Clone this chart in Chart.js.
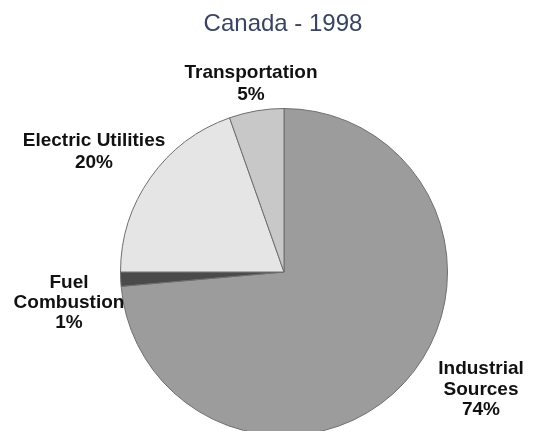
<!DOCTYPE html>
<html>
<head>
<meta charset="utf-8">
<script src="https://cdn.jsdelivr.net/npm/chart.js@4"></script>
<style>
    html, body { margin: 0; padding: 0; background: #fff; overflow: hidden; }
</style>
</head>
<body>
<canvas id="pieChart" width="547" height="442"></canvas>
<script>
const categories = ["Industrial Sources", "Fuel Combustion", "Electric Utilities", "Transportation"];
const shares = [73.6, 1.4, 19.6, 5.4];
const labelLines = [["Industrial", "Sources"], ["Fuel", "Combustion"], ["Electric Utilities"], ["Transportation"]];
const sliceColors = ["#9c9c9c", "#4a4a4a", "#e5e5e5", "#c8c8c8"];

// where each label block sits (center x, first line y, line gap)
const labelSpots = [
    { x: 481, y: 369, gap: 20.5 },
    { x: 69, y: 283, gap: 20 },
    { x: 94, y: 141, gap: 22 },
    { x: 251, y: 73, gap: 22 }
];

const textPlugin = {
    id: "texts",
    afterDraw(chart) {
        const ctx = chart.ctx;
        ctx.save();
        ctx.textAlign = "center";
        ctx.textBaseline = "middle";

        ctx.fillStyle = "#394462";
        ctx.font = "24px 'Liberation Sans', Arial, sans-serif";
        ctx.fillText("Canada - 1998", 283, 24);

        ctx.fillStyle = "#111";
        ctx.font = "bold 19px 'Liberation Sans', Arial, sans-serif";
        labelSpots.forEach((spot, i) => {
            const lines = labelLines[i].concat([Math.round(shares[i]) + "%"]);
            lines.forEach((line, j) => {
                ctx.fillText(line, spot.x, spot.y + j * spot.gap);
            });
        });
        ctx.restore();
    }
};

const pieChart = document.getElementById("pieChart");

new Chart(pieChart, {
    type: "pie",
    data: {
        labels: categories,
        datasets: [{
            data: shares,
            backgroundColor: sliceColors,
            borderColor: "#6e6e6e",
            borderWidth: 1
        }]
    },
    options: {
        responsive: false,
        animation: false,
        devicePixelRatio: 1,
        layout: { padding: { left: 120, right: 99, top: 108, bottom: 6 } },
        plugins: {
            legend: { display: false },
            tooltip: { enabled: false }
        }
    },
    plugins: [textPlugin]
});
</script>
</body>
</html>
